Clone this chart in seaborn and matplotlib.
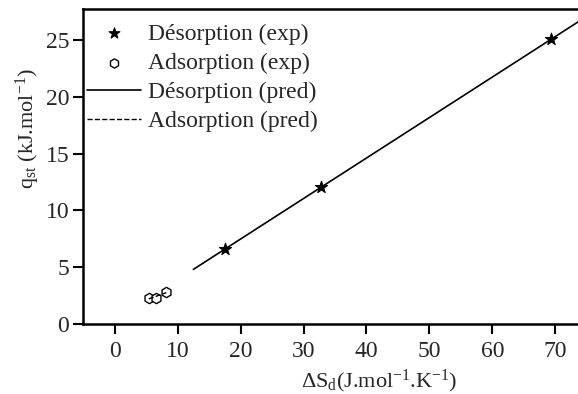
import numpy as np
import pandas as pd
import matplotlib
matplotlib.use("Agg")
import matplotlib.pyplot as plt
import seaborn as sns

# Data
des_x = [17.5, 32.7, 69.3]
des_y = [6.6, 12.1, 25.1]
ads_x = [5.4, 6.6, 8.2]
ads_y = [2.25, 2.3, 2.8]
des_pred_x = [12.5, 73.6]
des_pred_y = [4.8, 26.6]
ads_pred_x = [5.4, 8.2]
ads_pred_y = [2.2, 2.75]
x_ticks = [0, 10, 20, 30, 40, 50, 60, 70]
y_ticks = [0, 5, 10, 15, 20, 25]

sns.set_theme(style="ticks")
plt.rcParams['font.family'] = ['Liberation Serif', 'DejaVu Serif']
plt.rcParams['mathtext.fontset'] = 'custom'
plt.rcParams['mathtext.rm'] = 'Liberation Serif'
plt.rcParams['mathtext.it'] = 'Liberation Serif'

fig, ax = plt.subplots(figsize=(5.78, 3.94), dpi=100)
fig.subplots_adjust(left=0.144, right=1.0, top=0.976, bottom=0.178)

sns.scatterplot(x=des_x, y=des_y, marker='*', s=85, color='black',
                edgecolor='black', ax=ax, label='Désorption (exp)', zorder=3)
sns.scatterplot(x=ads_x, y=ads_y, marker='h', s=55, facecolor='white',
                edgecolor='black', linewidth=1.0, ax=ax, label='Adsorption (exp)', zorder=3)
sns.lineplot(x=des_pred_x, y=des_pred_y, color='black', linewidth=1.2, ax=ax,
             label='Désorption (pred)', zorder=2)
sns.lineplot(x=ads_pred_x, y=ads_pred_y, color='black', linewidth=1.0,
             linestyle='--', ax=ax, label='Adsorption (pred)', zorder=4)

ax.set_xlim(-5, 73.6)
ax.set_ylim(0, 27.7)
ax.set_xticks(x_ticks)
ax.set_yticks(y_ticks)
ax.tick_params(axis='both', labelsize=17, width=1.5, length=7, direction='out', color='black')
ax.tick_params(axis='x', pad=5)
ax.tick_params(axis='y', pad=3)
for side in ['left', 'bottom', 'top']:
    ax.spines[side].set_linewidth(1.8)
    ax.spines[side].set_color('black')
ax.spines['right'].set_visible(False)
ax.set_xlabel(r'$\Delta$S$_{\mathrm{d}}$(J.mol$^{\mathrm{-1}}$.K$^{\mathrm{-1}}$)', fontsize=16)
ax.set_ylabel(r'q$_{\mathrm{st}}$ (kJ.mol$^{\mathrm{-1}}$)', fontsize=16)
ax.xaxis.set_label_coords(0.598, -0.14)
ax.yaxis.set_label_coords(-0.083, 0.62)

leg = ax.legend(loc='upper left', frameon=False, fontsize=17, handlelength=2.3,
                handletextpad=0.3, labelspacing=0.33, borderaxespad=0.0,
                markerscale=0.9, bbox_to_anchor=(-0.012, 0.987))

fig.savefig('out.png', dpi=100)
